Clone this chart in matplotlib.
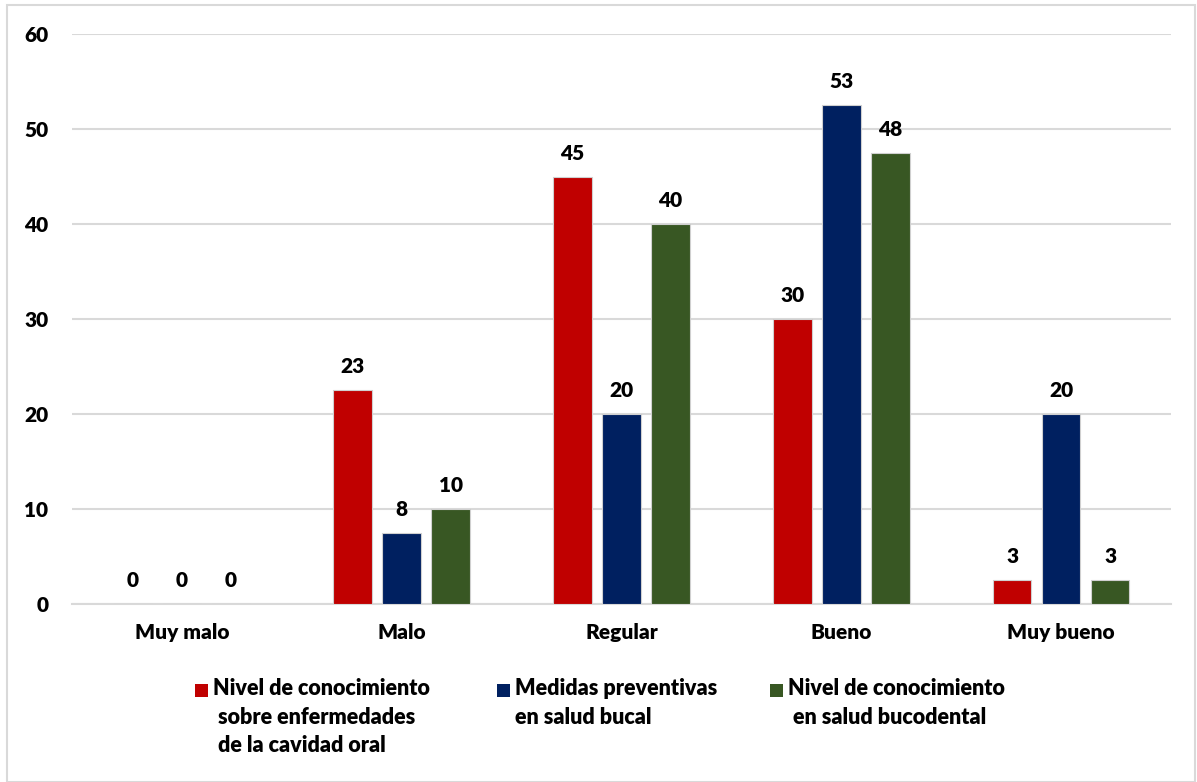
import numpy as np
import matplotlib
matplotlib.use("Agg")
import matplotlib.pyplot as plt
from matplotlib.patches import Rectangle

categories = ["Muy malo", "Malo", "Regular", "Bueno", "Muy bueno"]
series_names = [
    "Nivel de conocimiento\n sobre enfermedades\n de la cavidad oral",
    "Medidas preventivas\nen salud bucal",
    "Nivel de conocimiento\n en salud bucodental",
]
conocimiento_enfermedades = [0, 22.5, 45, 30, 2.5]
medidas_preventivas = [0, 7.5, 20, 52.5, 20]
conocimiento_bucodental = [0, 10, 40, 47.5, 2.5]
colors = ["#C00000", "#002060", "#385723"]

plt.rcParams['font.family'] = ['Lato', 'DejaVu Sans']

W, H = 1197, 782
fig = plt.figure(figsize=(W / 100, H / 100), dpi=100)
ax = fig.add_axes([72 / W, 1 - 604 / H, (1171 - 72) / W, (604 - 34) / H])

x = np.arange(len(categories))
width = 0.175
offset = 0.223
all_series = [conocimiento_enfermedades, medidas_preventivas, conocimiento_bucodental]

for i, vals in enumerate(all_series):
    pos = x + (i - 1) * offset
    bars = ax.bar(pos, vals, width, color=colors[i], edgecolor="#D0D0D0", linewidth=0.8,
                  zorder=3)
    for b, v in zip(bars, vals):
        ax.annotate(str(int(v + 0.5)), (b.get_x() + b.get_width() / 2, v),
                    xytext=(0, 10), textcoords="offset points",
                    ha="center", va="bottom", fontsize=15, fontweight="heavy")

ax.set_xlim(-0.5, 4.5)
ax.set_ylim(0, 60)
ax.set_yticks(range(0, 61, 10))
ax.set_xticks(x)
ax.set_xticklabels(categories, fontsize=15, fontweight="heavy")
ax.tick_params(axis="y", labelsize=15, length=0, pad=17)
ax.tick_params(axis="x", length=0, pad=14)
for lab in ax.get_yticklabels():
    lab.set_fontweight("heavy")
ax.grid(axis="y", color="#D9D9D9", linewidth=1.5, zorder=0)
for s in ["top", "right", "left"]:
    ax.spines[s].set_visible(False)
ax.spines["bottom"].set_color("#D9D9D9")
ax.spines["bottom"].set_linewidth(1.5)
ax.spines["bottom"].set_zorder(1)

# legend drawn by hand so the square sits on the first text line
legend_x = [195, 497, 770]
for name, c, lx in zip(series_names, colors, legend_x):
    fig.patches.append(Rectangle((lx / W, 1 - 697 / H), 13 / W, 13 / H,
                                 transform=fig.transFigure, facecolor=c, edgecolor="none"))
    fig.text((lx + 18) / W, 1 - 678 / H, name, ha="left", va="top", fontsize=15.5,
             fontweight="heavy", linespacing=1.45)

fig.patches.append(Rectangle((7 / W, 0), 1 - 9 / W, 1 - 5 / H,
                             transform=fig.transFigure, fill=False,
                             edgecolor="#D9D9D9", linewidth=1.5))

fig.savefig("out.png", dpi=100)
